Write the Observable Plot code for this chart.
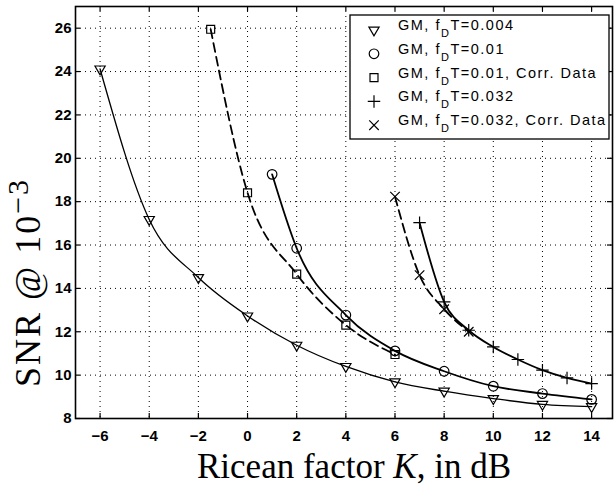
<!DOCTYPE html>
<html><head><meta charset="utf-8">
<script src="https://cdn.jsdelivr.net/npm/d3@7"></script>
<script src="https://cdn.jsdelivr.net/npm/@observablehq/plot@0.6"></script>
<style>
body{margin:0;background:#fff;}
#wrap{position:relative;width:616px;height:492px;}
</style></head><body><div id="wrap"></div>
<script>
// ---- data ----
const xTicks = [-6, -4, -2, 0, 2, 4, 6, 8, 10, 12, 14];
const yTicks = [8, 10, 12, 14, 16, 18, 20, 22, 24, 26];

const kTri = [-6, -4, -2, 0, 2, 4, 6, 8, 10, 12, 14];
const snrTri = [24.12, 17.18, 14.5, 12.73, 11.38, 10.4, 9.69, 9.26, 8.92, 8.65, 8.55];

const kCirc = [1, 2, 4, 6, 8, 10, 12, 14];
const snrCirc = [19.26, 15.85, 12.77, 11.12, 10.18, 9.49, 9.15, 8.88];

const kSq = [-1.5, 0, 2, 4, 6];
const snrSq = [25.95, 18.41, 14.66, 12.31, 10.95];

const kPlus = [7, 8, 9, 10, 11, 12, 13, 14];
const snrPlus = [17.03, 13.38, 12.07, 11.3, 10.72, 10.23, 9.87, 9.61];

const kX = [6, 7, 8, 9];
const snrX = [18.23, 14.61, 13.04, 12.0];

const legendFd = ["0.004", "0.01", "0.01", "0.032", "0.032"];
const legendSuffix = ["", "", ", Corr. Data", "", ", Corr. Data"];

// ---- series table ----
const series = [
  {id: 0, k: kTri, snr: snrTri, symbol: "triangle", rotate: 180, r: 3.8, dash: null, sw: 1.3},
  {id: 1, k: kCirc, snr: snrCirc, symbol: "circle", rotate: 0, r: 4.8, dash: null, sw: 1.8},
  {id: 2, k: kSq, snr: snrSq, symbol: "square", rotate: 0, r: 4.5, dash: "9,5", sw: 1.8},
  {id: 3, k: kPlus, snr: snrPlus, symbol: "plus", rotate: 0, r: 4.1, dash: null, sw: 1.8},
  {id: 4, k: kX, snr: snrX, symbol: "times", rotate: 0, r: 4.4, dash: "9,5", sw: 1.8}
];
const rows = series.map(s => s.k.map((k, i) => ({k, snr: s.snr[i]})));

// ---- layout ----
const W = 616, H = 492, ML = 75, MR = 4, MT = 6, MB = 74;
const PW = W - ML - MR, PH = H - MT - MB;
const TICK = 5;

const marks = [
  Plot.ruleX(xTicks, {stroke: "#000", strokeWidth: 1, strokeDasharray: "1,4"}),
  Plot.ruleY(yTicks, {stroke: "#000", strokeWidth: 1, strokeDasharray: "1,4"}),
  // inward tick marks on all four sides
  Plot.ruleX(xTicks, {stroke: "#000", strokeWidth: 1.2, insetTop: PH - TICK}),
  Plot.ruleX(xTicks, {stroke: "#000", strokeWidth: 1.2, insetBottom: PH - TICK}),
  Plot.ruleY(yTicks, {stroke: "#000", strokeWidth: 1.2, insetRight: PW - TICK}),
  Plot.ruleY(yTicks, {stroke: "#000", strokeWidth: 1.2, insetLeft: PW - TICK}),
  Plot.axisX({ticks: xTicks, tickSize: 0, tickPadding: 12, label: null, fontSize: 15, fontWeight: "bold"}),
  Plot.axisY({ticks: yTicks, tickSize: 0, tickPadding: 4, label: null, fontSize: 15, fontWeight: "bold"})
];
series.forEach((s, i) => {
  marks.push(Plot.line(rows[i], {x: "k", y: "snr", curve: "monotone-x", stroke: "#000",
    strokeWidth: s.sw, strokeDasharray: s.dash || undefined}));
  marks.push(Plot.dot(rows[i], {x: "k", y: "snr", symbol: () => s.symbol, r: s.r, rotate: s.rotate,
    stroke: "#000", fill: "none", strokeWidth: 1.2}));
});
marks.push(Plot.frame({stroke: "#000", strokeWidth: 1.6}));

const chart = Plot.plot({
  width: W, height: H,
  marginLeft: ML, marginRight: MR, marginTop: MT, marginBottom: MB,
  x: {domain: [-7, 14.85]},
  y: {domain: [8, 27]},
  style: {fontFamily: "'Liberation Sans', Arial, sans-serif", color: "#000", background: "#fff", overflow: "visible"},
  marks
});
document.getElementById("wrap").appendChild(chart);

const svg = d3.select(chart);

// ---- axis titles ----
const xt = svg.append("text")
  .attr("x", 354).attr("y", 478)
  .attr("text-anchor", "middle")
  .attr("font-family", "'Liberation Serif', 'Times New Roman', serif")
  .attr("font-size", 35).attr("fill", "#000");
xt.append("tspan").text("Ricean factor ");
xt.append("tspan").attr("font-style", "italic").text("K");
xt.append("tspan").text(", in dB");

const yt = svg.append("text")
  .attr("transform", "translate(40,387) rotate(-90)")
  .attr("text-anchor", "start")
  .attr("letter-spacing", 2)
  .attr("font-family", "'Liberation Serif', 'Times New Roman', serif")
  .attr("font-size", 36).attr("fill", "#000");
yt.append("tspan").text("SNR @ 10");
yt.append("tspan").attr("font-size", 30).attr("dy", -12).text("\u22123");

// ---- legend ----
const lg = svg.append("g").attr("text-anchor", "start");
lg.append("rect").attr("x", 350).attr("y", 15).attr("width", 259).attr("height", 124)
  .attr("fill", "#fff").attr("stroke", "#000").attr("stroke-width", 1.3);
const symMap = {triangle: d3.symbolTriangle, circle: d3.symbolCircle, square: d3.symbolSquare,
  plus: d3.symbolPlus, times: d3.symbolTimes};
series.forEach((s, i) => {
  const cy = 30 + 23.8 * i;
  lg.append("path")
    .attr("d", d3.symbol(symMap[s.symbol], Math.PI * s.r * s.r)())
    .attr("transform", `translate(374,${cy}) rotate(${s.rotate})`)
    .attr("fill", "none").attr("stroke", "#000").attr("stroke-width", 1.2);
  const t = lg.append("text").attr("x", 398).attr("y", cy)
    .attr("text-anchor", "start")
    .attr("font-family", "'Liberation Sans', Arial, sans-serif")
    .attr("font-size", 14.5).attr("letter-spacing", 1.5).attr("fill", "#000");
  t.append("tspan").text("GM, f");
  t.append("tspan").attr("font-size", 11).attr("dy", 7).text("D");
  t.append("tspan").attr("dy", -7).text("T=" + legendFd[i] + legendSuffix[i]);
});
</script></body></html>
